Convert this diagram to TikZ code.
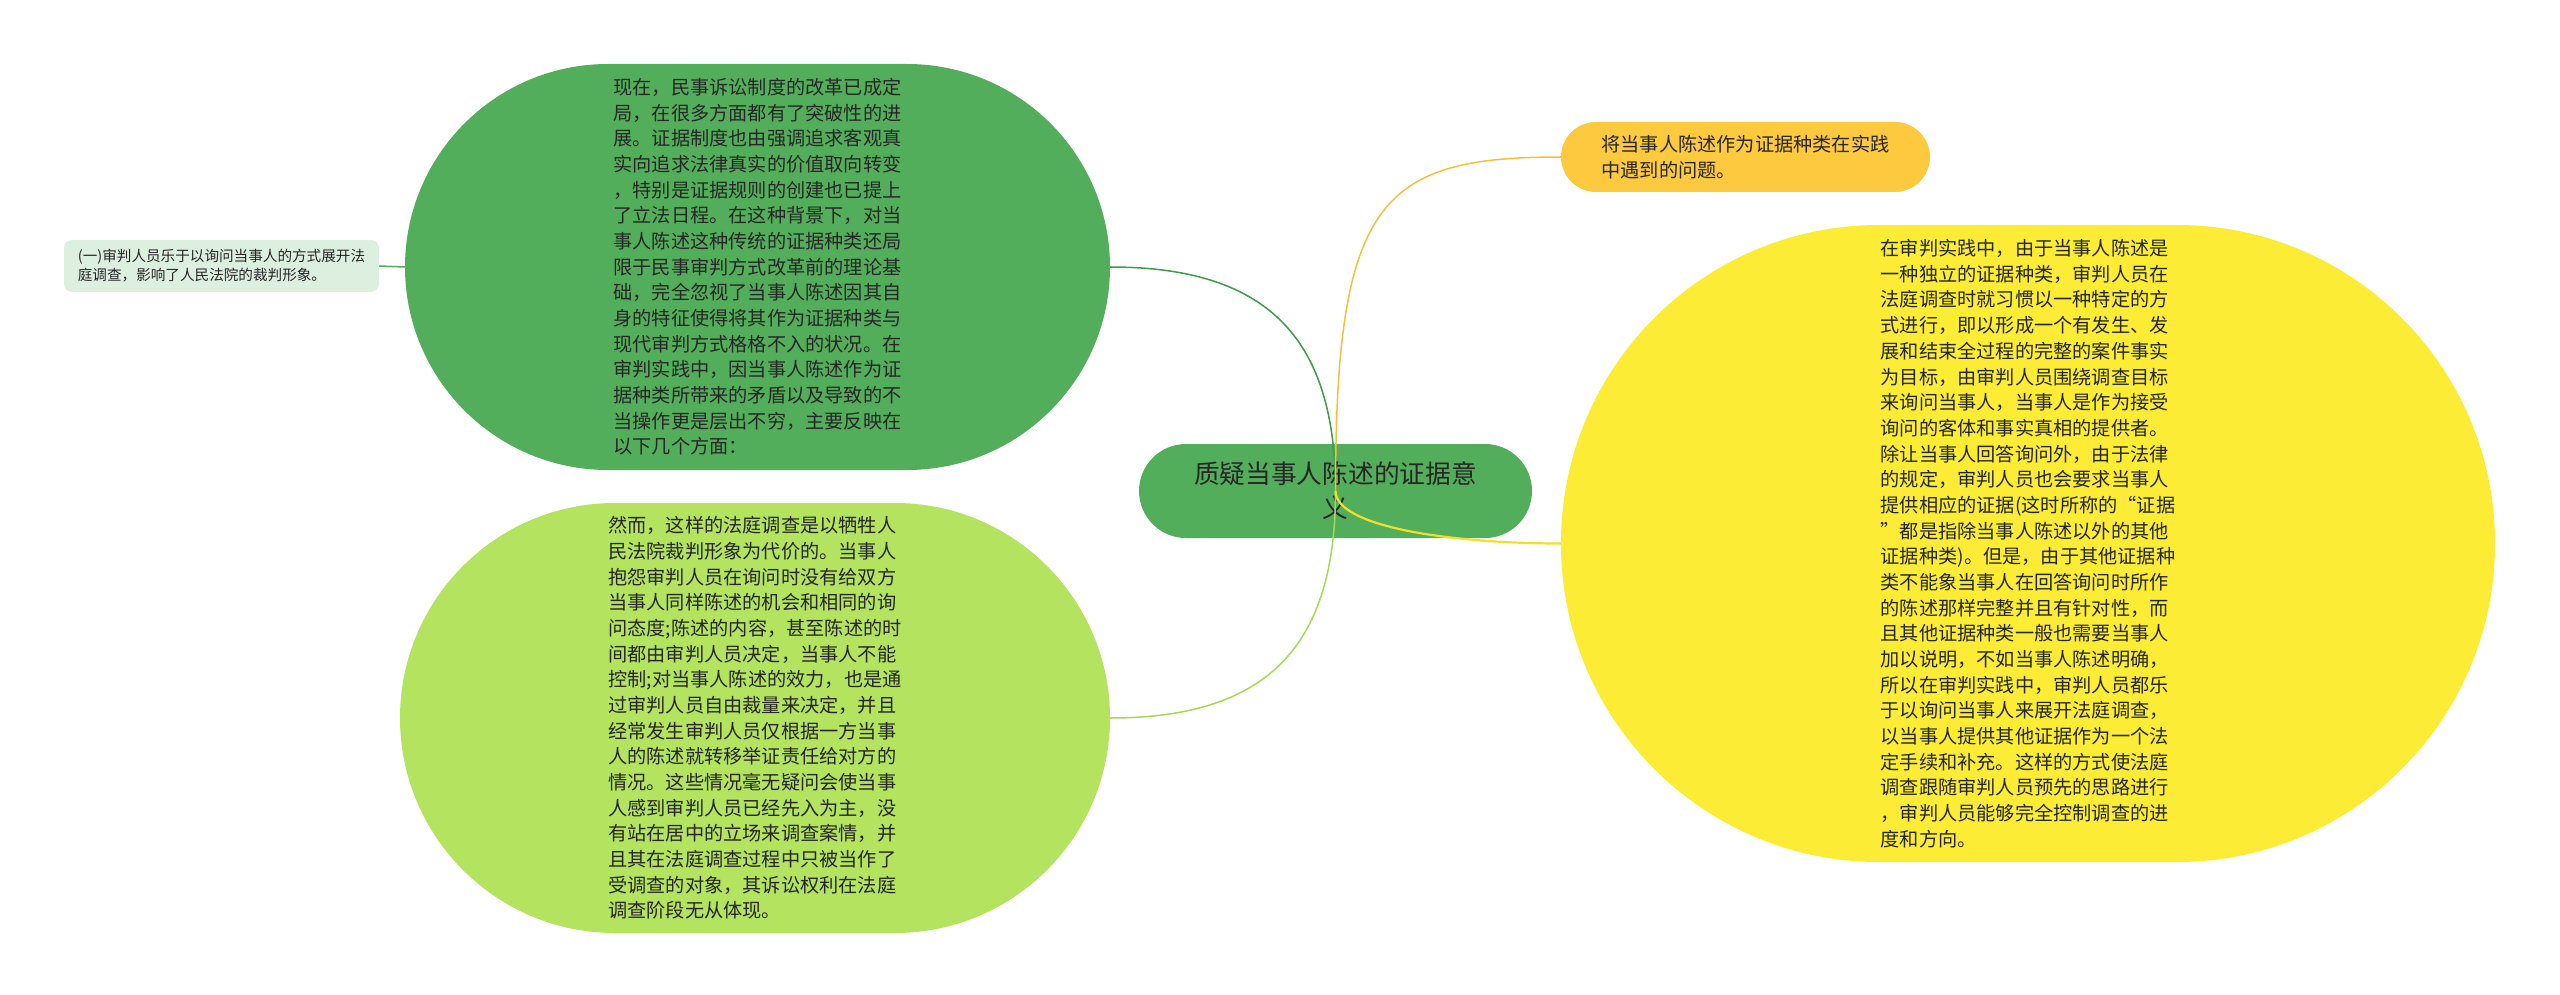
\documentclass[tikz,border=0pt]{standalone}
\usepackage{fontspec}
\newfontfamily\cjk{Noto Sans CJK SC}
\definecolor{dgreen}{HTML}{53AE5B}
\definecolor{dline}{HTML}{3E9B47}
\definecolor{lgreen}{HTML}{B3E35F}
\definecolor{lline}{HTML}{A6D957}
\definecolor{ycol}{HTML}{FDEC35}
\definecolor{yline}{HTML}{F3DF2A}
\definecolor{ocol}{HTML}{FDC93E}
\definecolor{oline}{HTML}{F6BF3F}
\definecolor{pcol}{HTML}{DDEFDF}
\definecolor{txt}{HTML}{262626}
\begin{document}
\begin{tikzpicture}[x=1pt, y=1pt, every node/.style={rectangle, inner sep=0pt, text=txt, align=left, font=\cjk\fontsize{19.2}{25.67}\selectfont}]
            \useasboundingbox (0,0) rectangle (2560,-995);
            \node[fill=dgreen, minimum width=705pt, minimum height=406pt, rounded corners=203pt] (g) at (757.5,-267) {现在，民事诉讼制度的改革已成定\\
局，在很多方面都有了突破性的进\\
展。证据制度也由强调追求客观真\\
实向追求法律真实的价值取向转变\\
，特别是证据规则的创建也已提上\\
了立法日程。在这种背景下，对当\\
事人陈述这种传统的证据种类还局\\
限于民事审判方式改革前的理论基\\
础，完全忽视了当事人陈述因其自\\
身的特征使得将其作为证据种类与\\
现代审判方式格格不入的状况。在\\
审判实践中，因当事人陈述作为证\\
据种类所带来的矛盾以及导致的不\\
当操作更是层出不穷，主要反映在\\
以下几个方面：};
            \node[fill=lgreen, minimum width=710pt, minimum height=430pt, rounded corners=215pt] (l) at (755,-718) {然而，这样的法庭调查是以牺牲人\\
民法院裁判形象为代价的。当事人\\
抱怨审判人员在询问时没有给双方\\
当事人同样陈述的机会和相同的询\\
问态度;陈述的内容，甚至陈述的时\\
间都由审判人员决定，当事人不能\\
控制;对当事人陈述的效力，也是通\\
过审判人员自由裁量来决定，并且\\
经常发生审判人员仅根据一方当事\\
人的陈述就转移举证责任给对方的\\
情况。这些情况毫无疑问会使当事\\
人感到审判人员已经先入为主，没\\
有站在居中的立场来调查案情，并\\
且其在法庭调查过程中只被当作了\\
受调查的对象，其诉讼权利在法庭\\
调查阶段无从体现。};
            \node[fill=ycol, minimum width=934pt, minimum height=637pt, rounded corners=318pt] (y) at (2028,-543.5) {在审判实践中，由于当事人陈述是\\
一种独立的证据种类，审判人员在\\
法庭调查时就习惯以一种特定的方\\
式进行，即以形成一个有发生、发\\
展和结束全过程的完整的案件事实\\
为目标，由审判人员围绕调查目标\\
来询问当事人，当事人是作为接受\\
询问的客体和事实真相的提供者。\\
除让当事人回答询问外，由于法律\\
的规定，审判人员也会要求当事人\\
提供相应的证据(这时所称的“证据\\
”都是指除当事人陈述以外的其他\\
证据种类)。但是，由于其他证据种\\
类不能象当事人在回答询问时所作\\
的陈述那样完整并且有针对性，而\\
且其他证据种类一般也需要当事人\\
加以说明，不如当事人陈述明确，\\
所以在审判实践中，审判人员都乐\\
于以询问当事人来展开法庭调查，\\
以当事人提供其他证据作为一个法\\
定手续和补充。这样的方式使法庭\\
调查跟随审判人员预先的思路进行\\
，审判人员能够完全控制调查的进\\
度和方向。};
            \node[fill=ocol, minimum width=369pt, minimum height=70pt, rounded corners=35pt] (o) at (1745.5,-157) {将当事人陈述作为证据种类在实践\\
中遇到的问题。};
            \node[fill=pcol, minimum width=315pt, minimum height=52pt, rounded corners=8pt, font=\cjk\fontsize{14.6}{19}\selectfont] (p) at (221.5,-266) {(一)审判人员乐于以询问当事人的方式展开法\\
庭调查，影响了人民法院的裁判形象。};
            \node[fill=dgreen, minimum width=393pt, minimum height=94pt, rounded corners=47pt, align=center, font=\cjk\fontsize{25.7}{34}\selectfont] (c) at (1335.5,-491) {质疑当事人陈述的证据意\\义};
            
            \draw[dgreen, line width=1.5pt] (g.west) -- (p.east);
            \draw[dline, line width=1.5pt, out=90, in=0, looseness=1.25] (c.center) to (g.east);
            \draw[lline, line width=1.5pt, out=-90, in=0, looseness=1.25] (c.center) to (l.east);
            \draw[oline, line width=1.5pt, out=90, in=180, out looseness=1.85, in looseness=1.15] (c.center) to (o.west);
            \draw[yline, line width=2.2pt, out=-90, in=180, out looseness=0.4, in looseness=1.2] (c.center) to (y.west);
            \end{tikzpicture}
\end{document}
